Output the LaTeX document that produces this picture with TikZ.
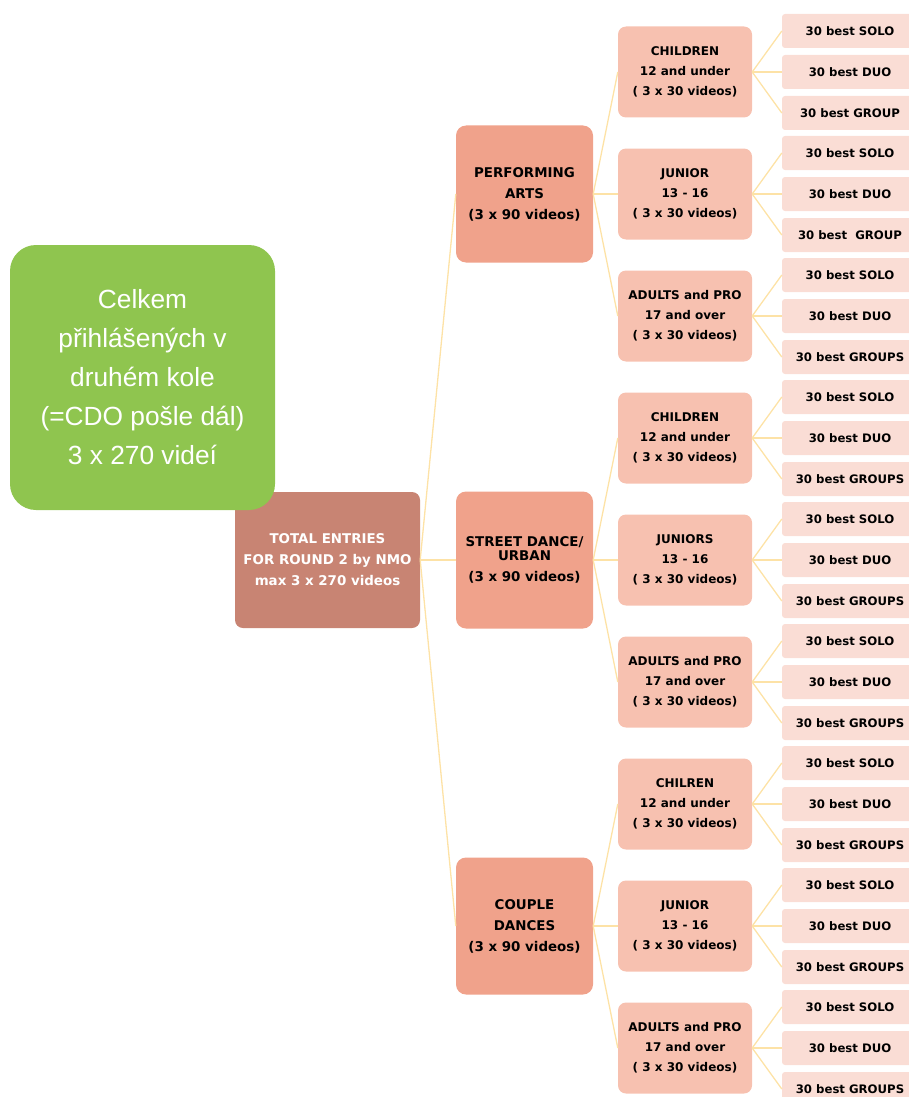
\documentclass[tikz,border=0pt]{standalone}
\usepackage{fontspec}
\setmainfont{DejaVu Sans}
\newfontfamily\helv{Liberation Sans}
\usetikzlibrary{positioning}
\definecolor{greenbox}{HTML}{8FC54F}
\definecolor{rootred}{HTML}{C88473}
\definecolor{catsalmon}{HTML}{F0A28B}
\definecolor{agepink}{HTML}{F7C1B0}
\definecolor{leafpink}{HTML}{FADDD5}
\definecolor{linkyellow}{HTML}{FDE2A6}

\begin{document}
\begin{tikzpicture}[x=1pt, y=-1pt,
    greennode/.style={rectangle, rounded corners=26pt, fill=greenbox, text=white, font=\helv\fontsize{26.3}{39}\selectfont, minimum width=265pt, minimum height=265pt, align=center},
    rootnode/.style={rectangle, rounded corners=8pt, fill=rootred, text=white, font=\bfseries\fontsize{13.4}{21}\selectfont, minimum width=185pt, minimum height=136pt, align=center},
    catnode/.style={rectangle, rounded corners=10pt, fill=catsalmon, font=\bfseries\fontsize{13.4}{21}\selectfont, minimum width=137pt, minimum height=137pt, align=center},
    agenode/.style={rectangle, rounded corners=8pt, fill=agepink, font=\bfseries\fontsize{12}{20}\selectfont, minimum width=134pt, minimum height=91pt, align=center},
    leafnode/.style={rectangle, rounded corners=3pt, fill=leafpink, font=\bfseries\fontsize{11.7}{12}\selectfont, minimum width=136pt, minimum height=34pt},
    link/.style={draw=linkyellow, line width=1.3pt}
]
    \useasboundingbox (0,0) rectangle (908,1097);

    \node[rootnode] (root) at (327.5, 560) {TOTAL ENTRIES\\FOR ROUND 2 by NMO\\max 3 x 270 videos};
    \node[greennode] (green) at (142.5, 377.5) {Celkem\\přihlášených v\\druhém kole\\(=CDO pošle dál)\\3 x 270 videí};

    \node[catnode] (pa) at (524.5, 194) {PERFORMING\\ARTS\\(3 x 90 videos)};
    \node[catnode] (sd) at (524.5, 560) {STREET DANCE/\\[-7pt]URBAN\\(3 x 90 videos)};
    \node[catnode] (cd) at (524.5, 926) {COUPLE\\DANCES\\(3 x 90 videos)};

    \node[agenode] (pa1) at (685, 72) {CHILDREN\\12 and under\\( 3 x 30 videos)};
    \node[agenode] (pa2) at (685, 194) {JUNIOR\\13 - 16\\( 3 x 30 videos)};
    \node[agenode] (pa3) at (685, 316) {ADULTS and PRO\\17 and over\\( 3 x 30 videos)};
    \node[agenode] (sd1) at (685, 438) {CHILDREN\\12 and under\\( 3 x 30 videos)};
    \node[agenode] (sd2) at (685, 560) {JUNIORS\\13 - 16\\( 3 x 30 videos)};
    \node[agenode] (sd3) at (685, 682) {ADULTS and PRO\\17 and over\\( 3 x 30 videos)};
    \node[agenode] (cd1) at (685, 804) {CHILREN\\12 and under\\( 3 x 30 videos)};
    \node[agenode] (cd2) at (685, 926) {JUNIOR\\13 - 16\\( 3 x 30 videos)};
    \node[agenode] (cd3) at (685, 1048) {ADULTS and PRO\\17 and over\\( 3 x 30 videos)};

    % leaves
    \node[leafnode] (pa1a) at (850, 31) {30 best SOLO}; \node[leafnode] (pa1b) at (850, 72) {30 best DUO}; \node[leafnode] (pa1c) at (850, 113) {30 best GROUP};
    \node[leafnode] (pa2a) at (850, 153) {30 best SOLO}; \node[leafnode] (pa2b) at (850, 194) {30 best DUO}; \node[leafnode] (pa2c) at (850, 235) {30 best\ \ GROUP};
    \node[leafnode] (pa3a) at (850, 275) {30 best SOLO}; \node[leafnode] (pa3b) at (850, 316) {30 best DUO}; \node[leafnode] (pa3c) at (850, 357) {30 best GROUPS};
    \node[leafnode] (sd1a) at (850, 397) {30 best SOLO}; \node[leafnode] (sd1b) at (850, 438) {30 best DUO}; \node[leafnode] (sd1c) at (850, 479) {30 best GROUPS};
    \node[leafnode] (sd2a) at (850, 519) {30 best SOLO}; \node[leafnode] (sd2b) at (850, 560) {30 best DUO}; \node[leafnode] (sd2c) at (850, 601) {30 best GROUPS};
    \node[leafnode] (sd3a) at (850, 641) {30 best SOLO}; \node[leafnode] (sd3b) at (850, 682) {30 best DUO}; \node[leafnode] (sd3c) at (850, 723) {30 best GROUPS};
    \node[leafnode] (cd1a) at (850, 763) {30 best SOLO}; \node[leafnode] (cd1b) at (850, 804) {30 best DUO}; \node[leafnode] (cd1c) at (850, 845) {30 best GROUPS};
    \node[leafnode] (cd2a) at (850, 885) {30 best SOLO}; \node[leafnode] (cd2b) at (850, 926) {30 best DUO}; \node[leafnode] (cd2c) at (850, 967) {30 best GROUPS};
    \node[leafnode] (cd3a) at (850, 1007) {30 best SOLO}; \node[leafnode] (cd3b) at (850, 1048) {30 best DUO}; \node[leafnode] (cd3c) at (850, 1089) {30 best GROUPS};

    \draw[link] (root.east) -- (pa.west); \draw[link] (root.east) -- (sd.west); \draw[link] (root.east) -- (cd.west);

    \draw[link] (pa.east) -- (pa1.west); \draw[link] (pa.east) -- (pa2.west); \draw[link] (pa.east) -- (pa3.west);
    \draw[link] (sd.east) -- (sd1.west); \draw[link] (sd.east) -- (sd2.west); \draw[link] (sd.east) -- (sd3.west);
    \draw[link] (cd.east) -- (cd1.west); \draw[link] (cd.east) -- (cd2.west); \draw[link] (cd.east) -- (cd3.west);

    \draw[link] (pa1.east) -- (pa1a.west); \draw[link] (pa1.east) -- (pa1b.west); \draw[link] (pa1.east) -- (pa1c.west);
    \draw[link] (pa2.east) -- (pa2a.west); \draw[link] (pa2.east) -- (pa2b.west); \draw[link] (pa2.east) -- (pa2c.west);
    \draw[link] (pa3.east) -- (pa3a.west); \draw[link] (pa3.east) -- (pa3b.west); \draw[link] (pa3.east) -- (pa3c.west);
    \draw[link] (sd1.east) -- (sd1a.west); \draw[link] (sd1.east) -- (sd1b.west); \draw[link] (sd1.east) -- (sd1c.west);
    \draw[link] (sd2.east) -- (sd2a.west); \draw[link] (sd2.east) -- (sd2b.west); \draw[link] (sd2.east) -- (sd2c.west);
    \draw[link] (sd3.east) -- (sd3a.west); \draw[link] (sd3.east) -- (sd3b.west); \draw[link] (sd3.east) -- (sd3c.west);
    \draw[link] (cd1.east) -- (cd1a.west); \draw[link] (cd1.east) -- (cd1b.west); \draw[link] (cd1.east) -- (cd1c.west);
    \draw[link] (cd2.east) -- (cd2a.west); \draw[link] (cd2.east) -- (cd2b.west); \draw[link] (cd2.east) -- (cd2c.west);
    \draw[link] (cd3.east) -- (cd3a.west); \draw[link] (cd3.east) -- (cd3b.west); \draw[link] (cd3.east) -- (cd3c.west);
\end{tikzpicture}
\end{document}
